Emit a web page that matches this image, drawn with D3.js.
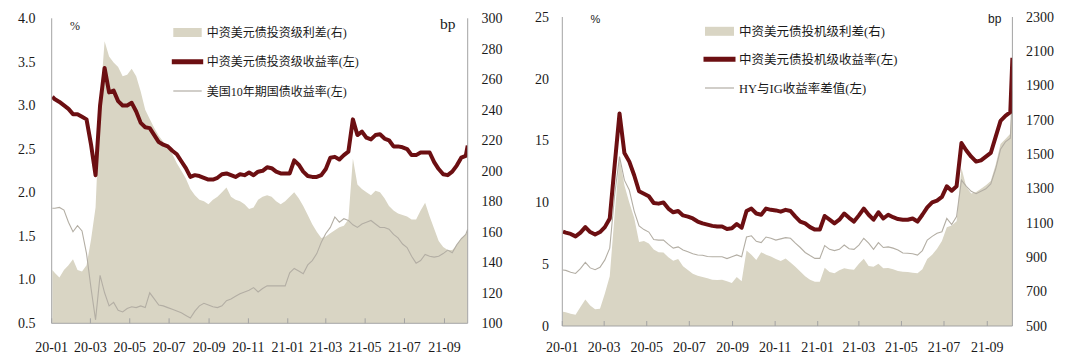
<!DOCTYPE html>
<html><head><meta charset="utf-8">
<script src="https://cdn.jsdelivr.net/npm/d3@7"></script>
<style>
html,body{margin:0;padding:0;background:#fff;}
svg{display:block;}
</style></head><body>
<svg id="chart" width="1080" height="362"></svg>
<script>
// ---------- categories (dates) ----------
const firstDate = "2020-01-02";
const weeklyFrom = "2020-01-06";   // Mondays
const weeklyTo = "2021-10-04";
const lastDate = "2021-10-07";
const xDomain = ["2020-01-01", "2021-10-07"];

// ---------- left panel (investment grade) ----------
const igYield = [3.10,
 3.07,3.04,3.00,2.96,2.90,2.90,2.87,2.84,2.55,2.20,
 3.00,3.43,3.15,3.17,3.05,3.00,3.00,3.03,2.93,2.80,
 2.75,2.74,2.66,2.58,2.55,2.53,2.48,2.44,2.36,2.28,
 2.18,2.20,2.19,2.17,2.15,2.15,2.17,2.21,2.22,2.20,
 2.18,2.21,2.20,2.23,2.20,2.24,2.25,2.29,2.28,2.24,
 2.22,2.22,2.22,2.37,2.32,2.24,2.19,2.18,2.18,2.20,
 2.27,2.40,2.41,2.38,2.43,2.47,2.84,2.66,2.70,2.63,
 2.61,2.66,2.67,2.62,2.60,2.53,2.53,2.52,2.50,2.43,
 2.43,2.46,2.46,2.46,2.35,2.27,2.21,2.20,2.24,2.31,
 2.40,2.42,
 2.54];
const us10y = [1.82,
 1.82,1.83,1.80,1.66,1.55,1.62,1.56,1.30,0.90,0.54,
 1.05,0.85,0.70,0.74,0.65,0.63,0.67,0.69,0.68,0.70,
 0.68,0.85,0.78,0.71,0.70,0.68,0.66,0.64,0.62,0.59,
 0.56,0.64,0.70,0.73,0.71,0.69,0.68,0.70,0.76,0.78,
 0.81,0.84,0.86,0.88,0.91,0.86,0.90,0.93,0.93,0.93,
 0.93,0.93,1.08,1.13,1.10,1.07,1.17,1.22,1.30,1.43,
 1.53,1.60,1.72,1.66,1.70,1.68,1.63,1.60,1.64,1.66,
 1.68,1.64,1.60,1.60,1.58,1.52,1.48,1.41,1.37,1.27,
 1.19,1.22,1.29,1.27,1.26,1.27,1.30,1.34,1.31,1.40,
 1.47,1.52,
 1.58];
const igSpread = [135,
 133,130,135,138,142,135,134,138,155,176,
 245,285,275,271,268,262,263,267,262,252,
 240,234,228,223,219,216,211,205,200,195,
 188,184,181,180,178,181,183,186,189,183,
 181,180,178,175,176,181,183,184,183,180,
 178,180,183,186,182,177,171,165,160,156,
 157,159,161,163,164,168,208,191,188,186,
 184,187,186,182,177,174,172,171,170,168,
 168,174,179,170,162,154,150,148,148,151,
 156,158,
 161];

// ---------- right panel (high yield) ----------
const hyYield = [7.63,
 7.55,7.45,7.25,7.55,8.0,7.6,7.4,7.6,8.0,8.7,
 13.0,17.2,14.0,13.3,12.2,10.9,10.7,10.5,9.95,9.9,
 10.0,9.5,9.2,9.3,8.95,8.85,8.7,8.45,8.3,8.2,
 8.1,8.05,8.05,7.85,7.9,8.25,7.95,9.3,9.5,9.1,
 9.0,9.5,9.4,9.35,9.25,9.4,9.3,8.85,8.45,8.3,
 8.0,7.8,7.8,8.9,8.6,8.3,8.6,9.1,8.75,8.45,
 8.95,9.5,9.0,8.6,9.2,8.7,9.0,8.8,8.65,8.6,
 8.6,8.7,8.45,9.0,9.6,10.0,10.15,10.45,11.3,10.95,
 11.3,14.8,14.2,13.7,13.3,13.4,13.7,14.0,15.3,16.6,
 17.0,17.3,
 21.7];
const hyIgGap = [4.53,
 4.5,4.35,4.25,4.65,5.15,4.7,4.55,4.75,5.35,6.3,
 10.6,13.7,11.8,11.0,9.3,8.1,7.8,7.6,7.0,6.95,
 6.95,6.6,6.3,6.4,6.15,6.0,5.85,5.75,5.72,5.62,
 5.6,5.6,5.6,5.45,5.6,5.75,5.6,7.2,7.3,6.85,
 6.75,7.2,7.1,6.95,7.05,7.15,7.1,6.7,6.35,5.95,
 5.7,5.47,5.47,6.5,6.2,6.1,6.2,6.55,6.25,6.2,
 6.55,7.1,6.7,6.2,6.75,6.35,6.4,6.3,6.15,5.9,
 5.88,5.85,5.74,6.1,6.95,7.25,7.5,7.63,8.7,8.2,
 8.85,11.8,11.3,10.9,10.7,10.9,11.1,11.5,12.7,14.3,
 14.9,15.2,
 19.0];
const hySpread = [583,
 580,572,565,610,655,620,598,600,690,790,
 1150,1480,1320,1220,1130,990,995,980,945,930,
 928,900,880,890,848,826,805,792,785,778,
 770,768,770,760,750,785,760,940,915,884,
 930,915,905,890,878,893,870,845,818,790,
 770,758,758,840,815,807,825,836,830,828,
 862,892,850,845,862,836,838,830,820,816,
 815,810,808,830,890,915,950,995,1075,1085,
 1110,1420,1310,1272,1280,1300,1320,1345,1440,1560,
 1590,1620,
 1880];

// ---------- tick labels ----------
const leftTicksL = [0.5,1.0,1.5,2.0,2.5,3.0,3.5,4.0];
const leftTicksR = [100,120,140,160,180,200,220,240,260,280,300];
const rightTicksL = [0,5,10,15,20,25];
const rightTicksR = [500,700,900,1100,1300,1500,1700,1900,2100,2300];

const legendLeft = ["中资美元债投资级利差(右)","中资美元债投资级收益率(左)","美国10年期国债收益率(左)"];
const legendRight = ["中资美元债投机级利差(右)","中资美元债投机级收益率(左)","HY与IG收益率差值(左)"];

// ---------- build ----------
const parse = d3.timeParse("%Y-%m-%d");
const dates = [parse(firstDate), ...d3.timeMonday.range(parse(weeklyFrom), d3.timeDay.offset(parse(weeklyTo),1)), parse(lastDate)];

const C = {area:"#d9d5c4", thick:"#6c0f12", thin:"#b3aea4", axis:"#a3a3a3", text:"#1a1a1a"};
const SERIF = "'Liberation Serif','Times New Roman',serif";
const MIX = "'Liberation Serif','Noto Sans CJK SC',serif";
const SANS = "'Liberation Sans',Arial,sans-serif";

const svg = d3.select("#chart");

function panel(o){
  const g = svg.append("g");
  const x = d3.scaleTime().domain(xDomain.map(parse)).range([o.x0,o.x1]);
  const yL = d3.scaleLinear().domain(o.lDomain).range([o.yB,o.yT]);
  const yR = d3.scaleLinear().domain(o.rDomain).range([o.yB,o.yT]);
  const n = Math.min(dates.length, o.area.length, o.thick.length, o.thin.length);
  const rows = d3.range(n).map(i=>({d:dates[i], a:o.area[i], k:o.thick[i], t:o.thin[i]}));

  const clipId = "clip"+o.id;
  svg.append("clipPath").attr("id",clipId).append("rect")
    .attr("x",o.x0).attr("y",o.yT-6).attr("width",o.x1-o.x0).attr("height",o.yB-o.yT+6);
  const p = g.append("g").attr("clip-path",`url(#${clipId})`);

  p.append("path").datum(rows)
    .attr("d", d3.area().x(r=>x(r.d)).y0(yR(o.rDomain[0])).y1(r=>yR(r.a)))
    .attr("fill",C.area);
  p.append("path").datum(rows)
    .attr("d", d3.line().x(r=>x(r.d)).y(r=>yL(r.t)))
    .attr("fill","none").attr("stroke",C.thin).attr("stroke-width",1.1);
  p.append("path").datum(rows)
    .attr("d", d3.line().x(r=>x(r.d)).y(r=>yL(r.k)))
    .attr("fill","none").attr("stroke",C.thick).attr("stroke-width",4).attr("stroke-linejoin","round");

  // axes lines
  const ax = g.append("g").attr("stroke",C.axis).attr("stroke-width",1);
  ax.append("line").attr("x1",o.x0).attr("x2",o.x0).attr("y1",o.yT).attr("y2",o.yB);
  ax.append("line").attr("x1",o.x1).attr("x2",o.x1).attr("y1",o.yT).attr("y2",o.yB);
  ax.append("line").attr("x1",o.x0).attr("x2",o.x1).attr("y1",o.yB).attr("y2",o.yB);

  const xt = d3.timeMonth.every(2).range(parse(xDomain[0]), d3.timeDay.offset(parse(xDomain[1]),1));
  const fmt = d3.timeFormat("%y-%m");
  ax.selectAll("line.tk").data(xt).join("line").attr("class","tk")
    .attr("x1",d=>x(d)).attr("x2",d=>x(d)).attr("y1",o.yB).attr("y2",o.yB-5);
  g.selectAll("text.xl").data(xt).join("text").attr("class","xl")
    .attr("x",d=>x(d)).attr("y",352).attr("text-anchor","middle")
    .attr("font-family",SERIF).attr("font-size",14).attr("fill",C.text).text(fmt);

  g.selectAll("text.yl").data(o.lTicks).join("text").attr("class","yl")
    .attr("x",o.lX).attr("y",d=>yL(d)).attr("dy","0.34em").attr("text-anchor","end")
    .attr("font-family",SERIF).attr("font-size",14).attr("fill",C.text).text(o.lFmt);
  g.selectAll("text.yr").data(o.rTicks).join("text").attr("class","yr")
    .attr("x",o.rX).attr("y",d=>yR(d)).attr("dy","0.34em").attr("text-anchor","start")
    .attr("font-family",SERIF).attr("font-size",14).attr("fill",C.text).text(d=>d);

  // unit labels
  g.append("text").attr("x",o.pct[0]).attr("y",o.pct[1]).attr("font-family",o.unitFont)
    .attr("font-size",o.pct[2]).attr("fill",C.text).text("%");
  g.append("text").attr("x",o.bp[0]).attr("y",o.bp[1]).attr("font-family",o.unitFont)
    .attr("font-size",o.bp[2]).attr("fill",C.text).text("bp");

  // legend
  const L = o.legend;
  const lg = g.append("g");
  lg.append("rect").attr("x",L.sx).attr("y",L.rows[0]-4.5).attr("width",L.sw).attr("height",9).attr("fill",C.area);
  lg.append("line").attr("x1",L.sx-1.5).attr("x2",L.sx+L.sw+1.5).attr("y1",L.rows[1]).attr("y2",L.rows[1])
    .attr("stroke",C.thick).attr("stroke-width",5);
  lg.append("line").attr("x1",L.sx).attr("x2",L.sx+L.sw).attr("y1",L.rows[2]).attr("y2",L.rows[2])
    .attr("stroke",C.thin).attr("stroke-width",1.2);
  lg.selectAll("text").data(L.labels).join("text")
    .attr("x",L.tx).attr("y",(d,i)=>L.rows[i]).attr("dy","0.38em")
    .attr("font-family",MIX).attr("font-size",L.fs).attr("fill",C.text).text(d=>d);
}

panel({id:"L", x0:51.7, x1:467.7, yT:18.3, yB:323.3,
  lDomain:[0.5,4.0], rDomain:[100,300], lTicks:leftTicksL, rTicks:leftTicksR,
  lFmt:d=>d.toFixed(1), lX:35.5, rX:481.5,
  area:igSpread, thick:igYield, thin:us10y,
  unitFont:SERIF, pct:[70,30,12], bp:[440,29,15.5],
  legend:{sx:173.3, sw:28.4, tx:206.7, rows:[32.5,61.7,91], fs:12, labels:legendLeft}});

panel({id:"R", x0:562.3, x1:1012.4, yT:17, yB:326,
  lDomain:[0,25], rDomain:[500,2300], lTicks:rightTicksL, rTicks:rightTicksR,
  lFmt:d=>d, lX:549, rX:1026,
  area:hySpread, thick:hyYield, thin:hyIgGap,
  unitFont:SANS, pct:[590.5,23.3,11], bp:[988,22.5,12],
  legend:{sx:705, sw:29, tx:739, rows:[31.3,59.3,88], fs:12.5, labels:legendRight}});
</script>
</body></html>
